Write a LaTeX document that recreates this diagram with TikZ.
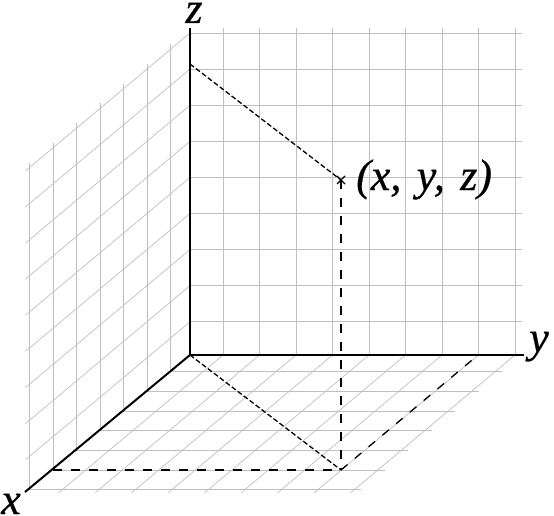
\documentclass[tikz,border=0pt]{standalone}
\usepackage{fontspec}
\setmainfont{Liberation Serif}
\newfontfamily\labfont{Liberation Serif}[ItalicFeatures={FakeBold=0.6}, WordSpace=1.4]
\begin{document}
\begin{tikzpicture}[x=1pt,y=-1pt,
  gridline/.style={draw=black!25,line width=0.7pt},
  axisline/.style={draw=black,line width=2pt},
  longdash/.style={draw=black,line width=1.3pt,dash pattern=on 8.5pt off 9.5pt},
  shortdash/.style={draw=black,line width=1.3pt,dash pattern=on 5pt off 2.5pt},
  lab/.style={inner sep=0pt,font=\labfont\fontsize{44}{50}\selectfont\itshape}]
\useasboundingbox (0,0) rectangle (554,516);
% wall in yz plane
\foreach \i in {0,...,8}
  \draw[gridline] ({223+36.5*\i},28) -- ({223+36.5*\i},355);
\foreach \j in {0,...,8}
  \draw[gridline] (190,{33+36.1*\j}) -- (522,{33+36.1*\j});
% wall in xz plane
\foreach \k in {0,...,6}
  \draw[gridline] ({190-23.5*(0.83+\k)},{355+19.7*(0.83+\k)}) -- ++(0,-327);
\foreach \j in {0,...,8}
  \draw[gridline] (190,{33+36.1*\j}) -- ++(-164.5,137.9);
% floor in xy plane
\foreach \k in {0,...,6}
  \draw[gridline] ({190-23.5*(0.84+\k)},{355+19.7*(0.84+\k)}) -- ++(332,0);
\foreach \i in {0,...,8}
  \draw[gridline] ({223+36.5*\i},355) -- ++(-164.5,137.9);
% axes
\coordinate (O) at (190,355);
\coordinate (X) at (25,492);
\coordinate (Y) at (524,355);
\coordinate (Z) at (190,28);
\draw[axisline] (O) -- (X);
\draw[axisline] (O) -- (Y);
\draw[axisline] (O) -- (Z);
% point and projections
\coordinate (P) at (341,180);
\coordinate (Q) at (341,470);
\coordinate (Px) at (53,470);
\coordinate (Py) at (478,355);
\coordinate (Pz) at (190,64);
\draw[shortdash] (Pz) -- (P);
\draw[shortdash] (O) -- (Q);
\draw[longdash] (P) -- (Q);
\draw[longdash] (Px) -- (Q);
\draw[longdash] (Q) -- (Py);
\draw[line width=1.2pt] (P) +(-4,-4) -- +(4,4) (P) +(-4,4) -- +(4,-4);
% labels
\node[lab,anchor=base] (lz) at (194,23) {z};
\node[lab,anchor=base] (ly) at (539,352) {y};
\node[lab,anchor=base] (lx) at (11,514) {x};
\node[lab,anchor=base west] (lp) at (356,190) {(x, y, z)};
\end{tikzpicture}
\end{document}
